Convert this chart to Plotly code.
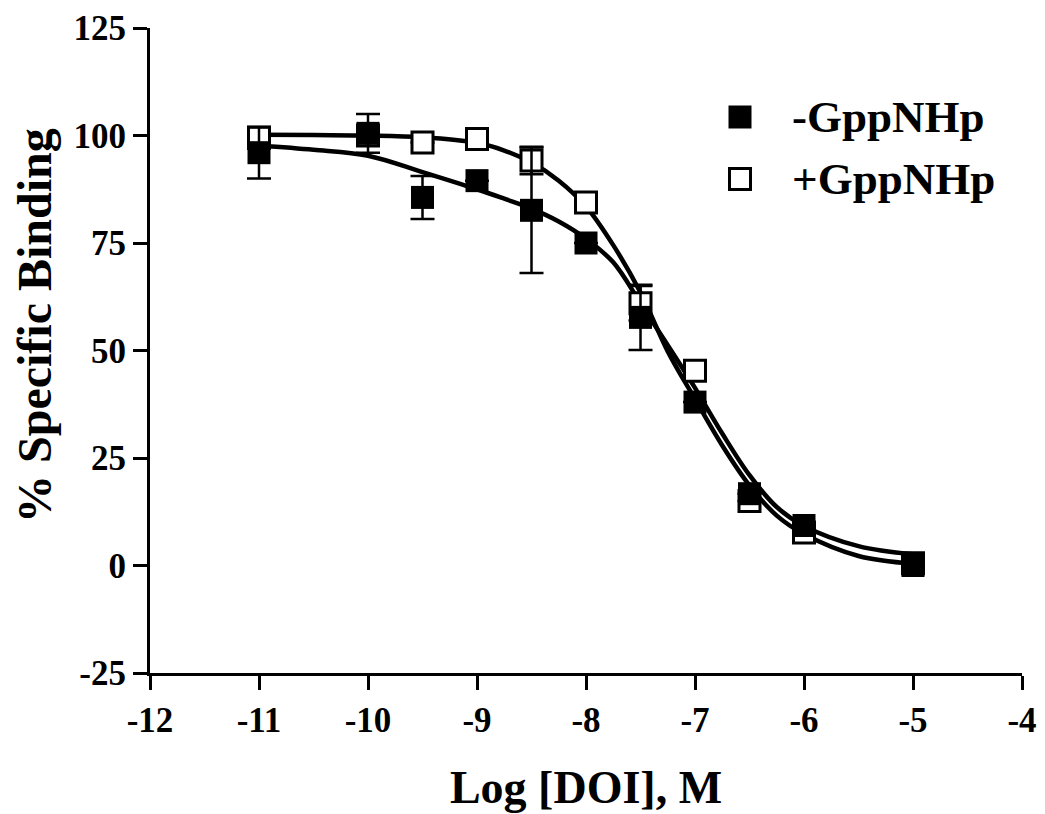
import plotly.graph_objects as go

# ---- data ----
log_doi = [-11, -10, -9.5, -9, -8.5, -8, -7.5, -7, -6.5, -6, -5]
minus_gpp = [96, 100.5, 85.6, 89.5, 82.6, 75, 57.7, 38, 16.7, 9.3, 0]
minus_err = [6, 4.5, 5, None, 14.6, None, 7.6, None, None, None, None]
plus_gpp = [99.5, 100, 98.4, 99.2, 94.2, 84.4, 61, 45.3, 15, 7.7, 0.5]
plus_err = [2.5, None, None, None, 3.2, None, 4, None, None, None, None]

# fitted curves
curve_x = [-11, -10.5, -10, -9.5, -9, -8.75, -8.5, -8.25, -8, -7.75, -7.5,
           -7.25, -7, -6.75, -6.5, -6.25, -6, -5.5, -5]
minus_curve = [97.7, 96.7, 95.3, 91.5, 87.5, 85.3, 83, 80, 76, 70.5, 61,
               51.2, 41.3, 30.7, 21, 13.6, 9.2, 4.5, 2.6]
plus_curve = [100.2, 100.1, 100, 99.6, 98.3, 96.5, 93.7, 89.5, 83.5, 74.5, 63.5,
              49.8, 38.7, 27.9, 18.6, 11.6, 7.3, 2.2, 0.4]

legend_names = ["-GppNHp", "+GppNHp"]
x_ticks = [-12, -11, -10, -9, -8, -7, -6, -5, -4]
y_ticks = [-25, 0, 25, 50, 75, 100, 125]

FONT = "Liberation Serif"

fig = go.Figure()

fig.add_trace(go.Scatter(x=curve_x, y=minus_curve, mode="lines",
                         line=dict(color="black", width=4.5, shape="spline"),
                         showlegend=False, hoverinfo="skip"))
fig.add_trace(go.Scatter(x=curve_x, y=plus_curve, mode="lines",
                         line=dict(color="black", width=4.5, shape="spline"),
                         showlegend=False, hoverinfo="skip"))

fig.add_trace(go.Scatter(
    x=log_doi, y=plus_gpp, mode="markers", name=legend_names[1],
    marker=dict(symbol="square", size=21, color="white",
                line=dict(color="black", width=3)),
    error_y=dict(type="data", array=plus_err, visible=True, color="black",
                 thickness=2.5, width=12),
    showlegend=False))

fig.add_trace(go.Scatter(
    x=log_doi, y=minus_gpp, mode="markers", name=legend_names[0],
    marker=dict(symbol="square", size=23, color="black",
                line=dict(color="black", width=0)),
    error_y=dict(type="data", array=minus_err, visible=True, color="black",
                 thickness=2.5, width=12),
    showlegend=False))

# ---- manual legend (paper coordinates) ----
L, T, W, H = 150, 28, 872, 645


def px(xp):
    return (xp - L) / W


def py(yp):
    return (T + H - yp) / H


rows = [117, 179]
half = 11.5
fig.add_shape(type="rect", xref="paper", yref="paper",
              x0=px(740 - half), x1=px(740 + half),
              y0=py(rows[0] + half), y1=py(rows[0] - half),
              fillcolor="black", line=dict(color="black", width=0))
fig.add_shape(type="rect", xref="paper", yref="paper",
              x0=px(740 - 10.5), x1=px(740 + 10.5),
              y0=py(rows[1] + 10.5), y1=py(rows[1] - 10.5),
              fillcolor="white", line=dict(color="black", width=3))
for name, r in zip(legend_names, rows):
    fig.add_annotation(text=name, xref="paper", yref="paper",
                       x=px(790), y=py(r), xanchor="left", yanchor="middle",
                       showarrow=False,
                       font=dict(family=FONT, size=45, color="black", weight="bold"))

# y-axis title placed as a rotated annotation
fig.add_annotation(text="% Specific Binding", xref="paper", yref="paper",
                   x=px(34), y=py(326), xanchor="center", yanchor="middle",
                   textangle=-90, showarrow=False,
                   font=dict(family=FONT, size=48, color="black", weight="bold"))

fig.update_layout(
    width=1045, height=814,
    margin=dict(l=L, r=1045 - L - W, t=T, b=814 - T - H, autoexpand=False),
    paper_bgcolor="white", plot_bgcolor="white",
    font=dict(family=FONT, color="black", weight="bold"),
    showlegend=False,
)

fig.update_xaxes(
    range=[-12, -4], tickvals=x_ticks, ticktext=[str(v) for v in x_ticks],
    showline=True, linewidth=3, linecolor="black", mirror=False,
    ticks="outside", ticklen=14, tickwidth=3, tickcolor="black",
    showgrid=False, zeroline=False,
    tickfont=dict(family=FONT, size=35, color="black", weight="bold"),
    title=dict(text="Log [DOI], M", standoff=32,
               font=dict(family=FONT, size=46, color="black", weight="bold")),
    automargin=False,
)
fig.update_yaxes(
    range=[-25, 125], tickvals=y_ticks, ticktext=[str(v) for v in y_ticks],
    showline=True, linewidth=3, linecolor="black", mirror=False,
    ticks="outside", ticklen=14, tickwidth=3, tickcolor="black",
    showgrid=False, zeroline=False,
    tickfont=dict(family=FONT, size=35, color="black", weight="bold"),
    automargin=False,
)

fig.write_html("out.html",
               config={"displayModeBar": False},
               post_script="document.body.style.margin='0';"
                           "document.body.style.overflow='hidden';")
